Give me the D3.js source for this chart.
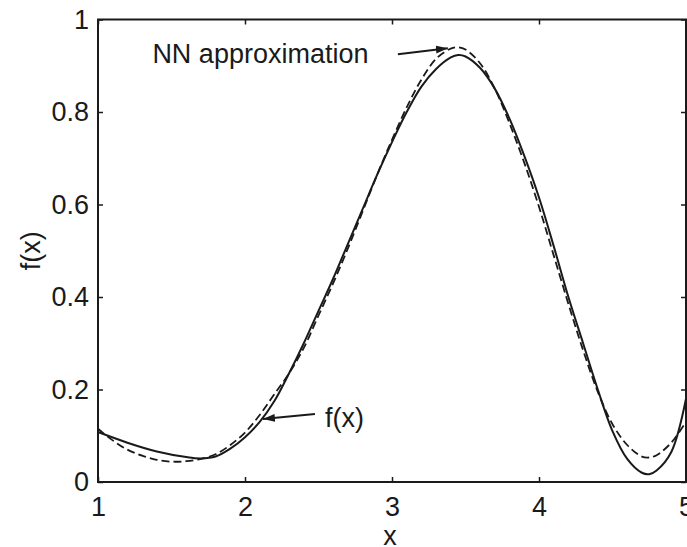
<!DOCTYPE html>
<html lang="en">
<head>
  <meta charset="UTF-8">
  <title>f(x) and NN approximation</title>
  <script src="https://cdn.jsdelivr.net/npm/d3@7"></script>
  <style>
    body { margin: 0; background: #fff; }
    svg { display: block; }
    text { font-family: "Liberation Sans", Arial, Helvetica, sans-serif; fill: #1a1a1a; }
    .axis line { stroke: #1a1a1a; stroke-width: 1.5px; }
    .axis text { font-size: 27px; }
  </style>
</head>
<body>
<div id="chart"></div>
<script>
  // values
  var xTicks = [1, 2, 3, 4, 5];
  var yTicks = [0, 0.2, 0.4, 0.6, 0.8, 1];

  var fX = [1.0, 1.2, 1.4, 1.6, 1.7, 1.8, 1.9, 2.0, 2.1, 2.2, 2.3, 2.4, 2.5, 2.6, 2.7, 2.8, 2.9, 3.0,
            3.1, 3.2, 3.3, 3.4, 3.45, 3.5, 3.6, 3.7, 3.8, 3.9, 4.0, 4.1, 4.2, 4.3, 4.4, 4.5, 4.6, 4.7, 4.75, 4.8, 4.9, 5.0];
  var fY = [0.108, 0.085, 0.066, 0.054, 0.051, 0.055, 0.072, 0.097, 0.13, 0.175, 0.235, 0.30, 0.37, 0.44, 0.515, 0.59, 0.665, 0.735,
            0.80, 0.855, 0.893, 0.918, 0.923, 0.92, 0.895, 0.85, 0.785, 0.705, 0.615, 0.51, 0.40, 0.30, 0.20, 0.11, 0.05, 0.02, 0.017, 0.025, 0.065, 0.18];

  var nnX = [1.0, 1.1, 1.2, 1.3, 1.4, 1.5, 1.6, 1.7, 1.8, 1.9, 2.0, 2.1, 2.2, 2.3, 2.4, 2.5, 2.6, 2.7, 2.8, 2.9, 3.0,
             3.1, 3.2, 3.3, 3.4, 3.45, 3.5, 3.6, 3.7, 3.8, 3.9, 4.0, 4.1, 4.2, 4.3, 4.4, 4.5, 4.6, 4.7, 4.75, 4.8, 4.9, 5.0];
  var nnY = [0.115, 0.09, 0.07, 0.057, 0.048, 0.044, 0.045, 0.05, 0.06, 0.08, 0.107, 0.145, 0.19, 0.235, 0.29, 0.36, 0.43, 0.505, 0.585, 0.665, 0.74,
             0.81, 0.87, 0.915, 0.937, 0.94, 0.935, 0.905, 0.85, 0.775, 0.69, 0.595, 0.49, 0.385, 0.285, 0.195, 0.125, 0.08, 0.055, 0.053, 0.058, 0.085, 0.13];

  // annotation labels: text anchor, arrow tail, arrow head (data units)
  var notes = [
    {label: "NN approximation", tx: 1.37, ty: 0.906, x1: 3.04, y1: 0.925, x2: 3.38, y2: 0.938},
    {label: "f(x)", tx: 2.544, ty: 0.119, x1: 2.476, y1: 0.147, x2: 2.122, y2: 0.136}
  ];

  var width = 687, height = 547;
  var mLeft = 98, mRight = 686, mTop = 19.5, mBottom = 482;

  var svg = d3.select("#chart").append("svg")
    .attr("width", width)
    .attr("height", height);

  var x = d3.scaleLinear().domain([1, 5]).range([mLeft, mRight]);
  var y = d3.scaleLinear().domain([0, 1]).range([mBottom, mTop]);

  svg.append("defs").append("marker")
    .attr("id", "head")
    .attr("viewBox", "0 0 12 8")
    .attr("refX", 12).attr("refY", 4)
    .attr("markerWidth", 12).attr("markerHeight", 8)
    .attr("markerUnits", "userSpaceOnUse")
    .attr("orient", "auto")
    .append("path")
    .attr("d", "M0,0 L12,4 L0,8 Z")
    .attr("fill", "#1a1a1a");

  // axes with inward ticks on all four sides
  svg.append("g").attr("class", "axis")
    .attr("transform", "translate(0," + mBottom + ")")
    .call(d3.axisBottom(x).tickValues(xTicks).tickSize(-5).tickPadding(15).tickFormat(d3.format("d")))
    .call(function(g) { g.select(".domain").remove(); });

  svg.append("g").attr("class", "axis")
    .attr("transform", "translate(0," + mTop + ")")
    .call(d3.axisTop(x).tickValues(xTicks).tickSize(-5).tickFormat(""))
    .call(function(g) { g.select(".domain").remove(); });

  svg.append("g").attr("class", "axis")
    .attr("transform", "translate(" + mLeft + ",0)")
    .call(d3.axisLeft(y).tickValues(yTicks).tickSize(-5).tickPadding(9).tickFormat(function(d) { return d === 0 || d === 1 ? d : d.toFixed(1); }))
    .call(function(g) { g.select(".domain").remove(); });

  svg.append("g").attr("class", "axis")
    .attr("transform", "translate(" + mRight + ",0)")
    .call(d3.axisRight(y).tickValues(yTicks).tickSize(-5).tickFormat(""))
    .call(function(g) { g.select(".domain").remove(); });

  svg.selectAll(".axis .tick text").attr("fill", "#1a1a1a");

  // frame
  svg.append("path")
    .attr("d", "M" + mLeft + "," + mTop + "H" + mRight + "V" + mBottom + "H" + mLeft + "Z")
    .attr("fill", "none")
    .attr("stroke", "#1a1a1a")
    .attr("stroke-width", 2);

  var line = d3.line()
    .x(function(d) { return x(d[0]); })
    .y(function(d) { return y(d[1]); })
    .curve(d3.curveCatmullRom.alpha(0.5));

  svg.append("path")
    .datum(d3.zip(fX, fY))
    .attr("d", line)
    .attr("fill", "none")
    .attr("stroke", "#1a1a1a")
    .attr("stroke-width", 2);

  svg.append("path")
    .datum(d3.zip(nnX, nnY))
    .attr("d", line)
    .attr("fill", "none")
    .attr("stroke", "#1a1a1a")
    .attr("stroke-width", 1.8)
    .attr("stroke-dasharray", "8,4");

  // annotations
  notes.forEach(function(n) {
    svg.append("text")
      .attr("x", x(n.tx)).attr("y", y(n.ty))
      .attr("font-size", 27)
      .text(n.label);
    svg.append("line")
      .attr("x1", x(n.x1)).attr("y1", y(n.y1))
      .attr("x2", x(n.x2)).attr("y2", y(n.y2))
      .attr("stroke", "#1a1a1a")
      .attr("stroke-width", 2)
      .attr("marker-end", "url(#head)");
  });

  // axis titles
  svg.append("text")
    .attr("x", (mLeft + mRight) / 2 - 2).attr("y", 545)
    .attr("text-anchor", "middle")
    .attr("font-size", 27)
    .text("x");

  svg.append("text")
    .attr("transform", "translate(40," + ((mTop + mBottom) / 2) + ") rotate(-90)")
    .attr("text-anchor", "middle")
    .attr("font-size", 27)
    .text("f(x)");
</script>
</body>
</html>
